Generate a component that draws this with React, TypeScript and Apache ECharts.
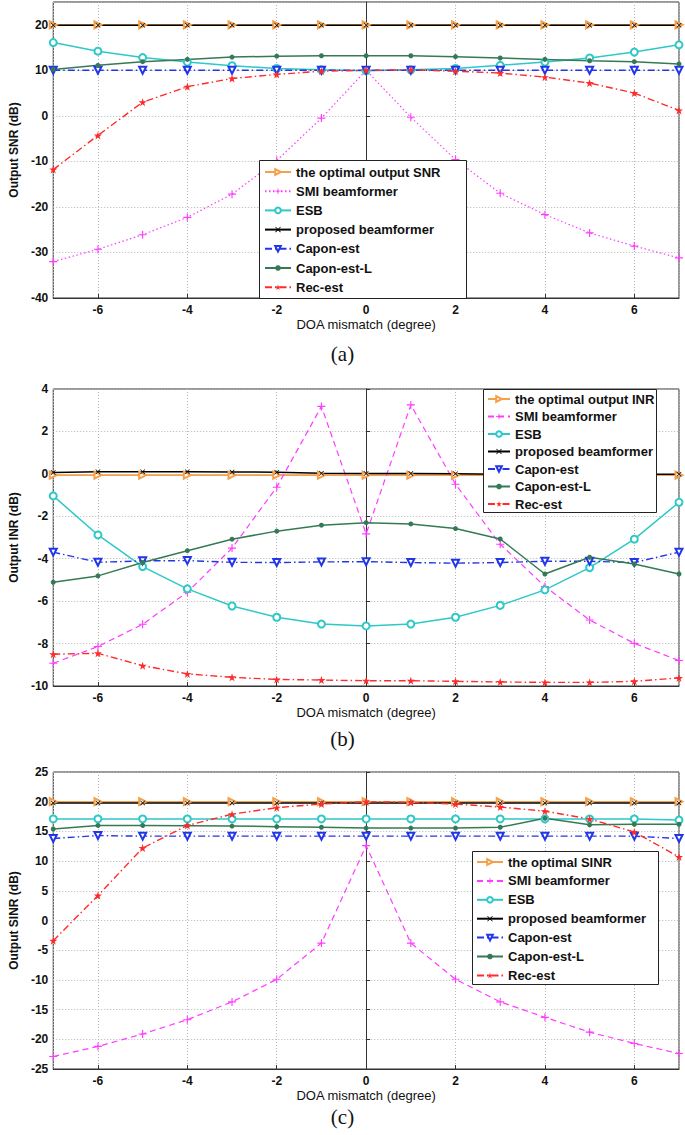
import React, { useEffect, useRef } from "react";
import * as echarts from "echarts";

// ---------- data ----------
const doa = [-7, -6, -5, -4, -3, -2, -1, 0, 1, 2, 3, 4, 5, 6, 7];

// (a) Output SNR (dB)
const snrOptimal = [20, 20, 20, 20, 20, 20, 20, 20, 20, 20, 20, 20, 20, 20, 20];
const snrSmi = [-32.0, -29.3, -26.1, -22.3, -17.2, -9.8, -0.5, 10.0, -0.3, -9.6, -17.0, -21.7, -25.7, -28.6, -31.2];
const snrEsb = [16.1, 14.2, 12.8, 11.8, 11.0, 10.4, 10.1, 9.9, 10.1, 10.4, 11.1, 11.8, 12.7, 14.0, 15.6];
const snrProposed = [19.9, 19.9, 19.9, 19.9, 19.9, 19.9, 19.9, 19.9, 19.9, 19.9, 19.9, 19.9, 19.9, 19.9, 19.9];
const snrCapon = [10.0, 10.0, 10.0, 10.0, 10.0, 10.0, 10.0, 10.0, 10.0, 10.0, 10.0, 10.0, 10.0, 10.0, 10.0];
const snrCaponL = [10.2, 11.1, 11.9, 12.4, 12.9, 13.1, 13.2, 13.2, 13.2, 13.0, 12.7, 12.4, 12.1, 11.9, 11.4];
const snrRec = [-11.8, -4.3, 3.0, 6.4, 8.2, 9.1, 9.8, 10.0, 10.1, 9.8, 9.4, 8.5, 7.2, 5.0, 1.2];

// (b) Output INR (dB)
const inrOptimal = [-0.06, -0.06, -0.06, -0.06, -0.06, -0.06, -0.06, -0.06, -0.06, -0.06, -0.06, -0.06, -0.06, -0.06, -0.06];
const inrSmi = [-8.93, -8.14, -7.09, -5.58, -3.5, -0.63, 3.18, -2.83, 3.25, -0.49, -3.32, -5.31, -6.89, -7.99, -8.8];
const inrEsb = [-1.04, -2.88, -4.37, -5.42, -6.23, -6.76, -7.08, -7.17, -7.08, -6.76, -6.2, -5.47, -4.42, -3.08, -1.34];
const inrProposed = [0.06, 0.1, 0.1, 0.1, 0.09, 0.08, 0.03, 0.02, 0.02, 0.0, -0.02, -0.02, -0.02, -0.02, -0.02];
const inrCapon = [-3.69, -4.17, -4.1, -4.09, -4.17, -4.18, -4.15, -4.14, -4.18, -4.21, -4.18, -4.12, -4.12, -4.18, -3.69];
const inrCaponL = [-5.11, -4.81, -4.18, -3.62, -3.08, -2.7, -2.42, -2.3, -2.36, -2.58, -3.07, -4.72, -3.93, -4.25, -4.72];
const inrRec = [-8.5, -8.46, -9.04, -9.43, -9.59, -9.69, -9.72, -9.75, -9.75, -9.78, -9.81, -9.83, -9.83, -9.78, -9.62];

// (c) Output SINR (dB)
const sinrOptimal = [20, 20, 20, 20, 20, 20, 20, 20, 20, 20, 20, 20, 20, 20, 20];
const sinrSmi = [-22.9, -21.2, -19.1, -16.7, -13.7, -9.9, -3.8, 12.6, -3.8, -9.9, -13.7, -16.3, -18.8, -20.7, -22.4];
const sinrEsb = [17.1, 17.1, 17.1, 17.1, 17.1, 17.1, 17.1, 17.1, 17.1, 17.1, 17.1, 17.1, 17.1, 17.1, 16.9];
const sinrProposed = [19.8, 19.8, 19.8, 19.8, 19.8, 19.8, 19.8, 19.8, 19.8, 19.8, 19.8, 19.8, 19.8, 19.8, 19.8];
const sinrCapon = [13.8, 14.3, 14.2, 14.2, 14.2, 14.2, 14.2, 14.2, 14.2, 14.2, 14.2, 14.2, 14.2, 14.2, 13.8];
const sinrCaponL = [15.4, 16.0, 16.0, 15.96, 15.9, 15.8, 15.7, 15.56, 15.56, 15.56, 15.7, 17.2, 16.1, 16.2, 16.2];
const sinrRec = [-3.4, 4.2, 12.2, 16.0, 17.9, 19.0, 19.6, 20.0, 19.9, 19.6, 19.1, 18.4, 17.1, 14.9, 10.7];

const commonNames = ["SMI beamformer", "ESB", "proposed beamformer", "Capon-est", "Capon-est-L", "Rec-est"];
const optimalNames = ["the optimal output SNR", "the optimal output INR", "the optimal SINR"];
const yNames = ["Output SNR (dB)", "Output INR (dB)", "Output SINR (dB)"];
const xName = "DOA mismatch (degree)";
const captions = ["(a)", "(b)", "(c)"];

// ---------- styles ----------
const C_OPT = "#F5A04A";
const C_SMI = "#FF3CFF";
const C_ESB = "#2EC8C8";
const C_PROP = "#000000";
const C_CAP = "#2236E8";
const C_CAPL = "#357A55";
const C_REC = "#FF2A2A";

const PLUS = "path://M4.3,0H5.7V4.3H10V5.7H5.7V10H4.3V5.7H0V4.3H4.3Z";
const XMARK = "path://M1,0L5,4L9,0L10,1L6,5L10,9L9,10L5,6L1,10L0,9L4,5L0,1Z";
const STAR = "path://M5,0L6.2,3.6L10,3.6L7,5.9L8.1,9.5L5,7.3L1.9,9.5L3,5.9L0,3.6L3.8,3.6Z";

const DASH = [6, 4];
const DOT = [1.5, 2.5];
const DASHDOT = [7, 3, 1.5, 3];

const FONT = "'Liberation Sans', Arial, sans-serif";

const grids = [
  { left: 38, top: 2, width: 641, height: 296 },
  { left: 38, top: 389, width: 641, height: 297 },
  { left: 38, top: 772, width: 641, height: 297 },
];
const yRanges = [
  { min: -40, max: 25, interval: 10, showMax: false },
  { min: -10, max: 4, interval: 2, showMax: true },
  { min: -25, max: 25, interval: 5, showMax: true },
];
// legend box frames and item layout
const legendBox = [
  { x: 259, y: 160, w: 207, h: 138 },
  { x: 483, y: 389, w: 173, h: 123 },
  { x: 472, y: 851, w: 186, h: 133 },
];
const legendItems = [
  { left: 264, firstCenter: 172, gap: 6.2, iconW: 26 },
  { left: 487, firstCenter: 399, gap: 4.5, iconW: 22 },
  { left: 476, firstCenter: 862, gap: 5.9, iconW: 26 },
];
const captionY = [355, 740, 1118];

function pts(v: number[]) {
  return doa.map((x, i) => [x, v[i]]);
}

export default function App() {
  const ref = useRef<HTMLDivElement>(null);
  useEffect(() => {
    if (!ref.current) return;
    const chart = echarts.init(ref.current, undefined, { renderer: "svg" });

    const panels = [
      [snrOptimal, snrSmi, snrEsb, snrProposed, snrCapon, snrCaponL, snrRec],
      [inrOptimal, inrSmi, inrEsb, inrProposed, inrCapon, inrCaponL, inrRec],
      [sinrOptimal, sinrSmi, sinrEsb, sinrProposed, sinrCapon, sinrCaponL, sinrRec],
    ];

    const series: any[] = [];
    panels.forEach((p, k) => {
      const base = { type: "line", xAxisIndex: k, yAxisIndex: k, showSymbol: true, animation: false };
      const smiType = k === 0 ? DOT : DASH;
      series.push({
        ...base, name: optimalNames[k], data: pts(p[0]),
        symbol: "emptyTriangle", symbolRotate: -90, symbolSize: 7,
        lineStyle: { color: C_OPT, width: 1.6 }, itemStyle: { color: C_OPT, borderColor: C_OPT, borderWidth: 1.2 },
      });
      series.push({
        ...base, name: commonNames[0], data: pts(p[1]),
        symbol: PLUS, symbolSize: 8,
        lineStyle: { color: C_SMI, width: 1.2, type: smiType }, itemStyle: { color: C_SMI },
      });
      series.push({
        ...base, name: commonNames[1], data: pts(p[2]),
        symbol: "emptyCircle", symbolSize: 7,
        lineStyle: { color: C_ESB, width: 1.5 }, itemStyle: { color: C_ESB, borderColor: C_ESB, borderWidth: 1.2 },
      });
      series.push({
        ...base, name: commonNames[2], data: pts(p[3]),
        symbol: XMARK, symbolSize: 5,
        lineStyle: { color: C_PROP, width: 1.5 }, itemStyle: { color: C_PROP },
      });
      series.push({
        ...base, name: commonNames[3], data: pts(p[4]),
        symbol: "emptyTriangle", symbolRotate: 180, symbolSize: 7,
        lineStyle: { color: C_CAP, width: 1.4, type: DASHDOT }, itemStyle: { color: C_CAP, borderColor: C_CAP, borderWidth: 1.2 },
      });
      series.push({
        ...base, name: commonNames[4], data: pts(p[5]),
        symbol: "circle", symbolSize: 5,
        lineStyle: { color: C_CAPL, width: 1.5 }, itemStyle: { color: C_CAPL },
      });
      series.push({
        ...base, name: commonNames[5], data: pts(p[6]),
        symbol: STAR, symbolSize: 8,
        lineStyle: { color: C_REC, width: 1.4, type: DASHDOT }, itemStyle: { color: C_REC },
      });
    });

    const xAxis = grids.map((_, k) => ({
      type: "value", gridIndex: k, min: -7, max: 7, splitNumber: 7,
      name: xName, nameLocation: "middle", nameGap: 20,
      nameTextStyle: { fontSize: 13, color: "#111", fontFamily: FONT },
      axisLine: { show: true, onZero: false, lineStyle: { color: "#333", width: 1 } },
      axisTick: { show: true, inside: true, length: 4, lineStyle: { color: "#333" } },
      axisLabel: {
        showMinLabel: false, showMaxLabel: false, margin: 6,
        fontSize: 12, fontWeight: "bold", color: "#111", fontFamily: FONT,
      },
      splitLine: { show: true, lineStyle: { color: "#b5b5b5", width: 1, type: [1, 2] } },
    }));

    const yAxis = grids.map((_, k) => ({
      type: "value", gridIndex: k, min: yRanges[k].min, max: yRanges[k].max, interval: yRanges[k].interval,
      name: yNames[k], nameLocation: "middle", nameGap: 25,
      nameTextStyle: { fontSize: 12, fontWeight: "bold", color: "#111", fontFamily: FONT },
      axisLine: { show: true, lineStyle: { color: "#333", width: 1 } },
      axisTick: { show: true, inside: true, length: 4, lineStyle: { color: "#333" } },
      axisLabel: {
        showMaxLabel: yRanges[k].showMax, margin: 5,
        fontSize: 12, fontWeight: "bold", color: "#111", fontFamily: FONT,
      },
      splitLine: { show: true, lineStyle: { color: "#b5b5b5", width: 1, type: [1, 2] } },
    }));

    const legend = legendItems.map((li, k) => ({
      orient: "vertical", left: li.left, top: li.firstCenter - 6.5,
      padding: 0, itemGap: li.gap, itemWidth: li.iconW, itemHeight: 7,
      selectedMode: false,
      textStyle: { fontSize: 13, fontWeight: "bold", color: "#111", fontFamily: FONT },
      data: [
        { name: optimalNames[k] },
        { name: commonNames[0], lineStyle: { type: k === 0 ? DOT : DASH } },
        { name: commonNames[1] },
        { name: commonNames[2] },
        { name: commonNames[3] },
        { name: commonNames[4] },
        { name: commonNames[5] },
      ],
      z: 10,
    }));

    const graphic: any[] = [];
    legendBox.forEach((b) => {
      graphic.push({
        type: "rect", z: 5, silent: true,
        shape: { x: b.x + 0.5, y: b.y + 0.5, width: b.w, height: b.h },
        style: { fill: "#fff", stroke: "#222", lineWidth: 1 },
      });
    });
    captions.forEach((c, k) => {
      graphic.push({
        type: "text", left: "center", top: captionY[k] - 12,
        style: { text: c, font: "21px 'Liberation Serif', 'Times New Roman', serif", fill: "#111" },
      });
    });

    chart.setOption({
      animation: false,
      backgroundColor: "#fff",
      grid: grids.map((g) => ({ ...g, show: true, borderColor: "#333", borderWidth: 1, backgroundColor: "transparent" })),
      xAxis,
      yAxis,
      legend,
      series,
      graphic,
    });

    return () => chart.dispose();
  }, []);

  return (
    <div
      ref={ref}
      style={{ position: "absolute", left: 0, top: 0, width: 685, height: 1135, background: "#fff" }}
    />
  );
}
